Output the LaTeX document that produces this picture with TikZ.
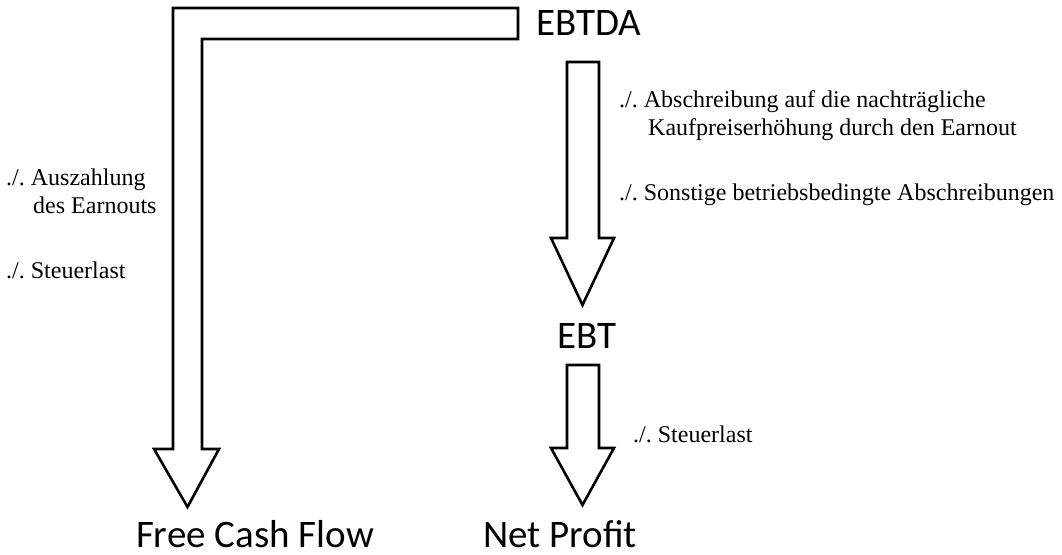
\documentclass[tikz,border=0pt]{standalone}
\usepackage{fontspec}
\setmainfont{Liberation Serif}
\newfontfamily\calib{Carlito}
\frenchspacing
\tikzset{
  blockarrow/.style={draw=black, line width=2.6pt, line join=miter, fill=white},
  bigtext/.style={inner sep=0pt, text depth=0pt, font=\calib\fontsize{39}{44}\selectfont},
  note/.style={inner sep=0pt, anchor=base west, align=left, font=\frenchspacing\fontsize{24}{28}\selectfont},
}
\begin{document}
\begin{tikzpicture}[x=1pt,y=-1pt]
\useasboundingbox (0,0) rectangle (1062,554);
% L-shaped arrow EBTDA -> Free Cash Flow
\draw[blockarrow] (518,8) -- (173,8) -- (173,449) -- (154,449) -- (187.5,507) -- (219,449) -- (202,449) -- (202,39) -- (518,39) -- cycle;
% EBTDA -> EBT
\draw[blockarrow] (567,62) -- (599,62) -- (599,238) -- (614,238) -- (582.5,305) -- (551,238) -- (567,238) -- cycle;
% EBT -> Net Profit
\draw[blockarrow] (567,365) -- (599,365) -- (599,448) -- (614,448) -- (582.5,505) -- (551,448) -- (567,448) -- cycle;
% labels
\node[bigtext, anchor=base] (ebtda) at (589,35) {EBTDA};
\node[bigtext, anchor=base] (ebt) at (587,348) {EBT};
\node[bigtext, anchor=base] (fcf) at (255,547) {Free Cash Flow};
\node[bigtext, anchor=base] (np) at (560,547) {Net Profit};
% notes
\node[note] (n1) at (6,213) {./. Auszahlung\\\hspace*{27pt}des Earnouts};
\node[note] (n2) at (6,278) {./. Steuerlast};
\node[note] (n3) at (619,135) {./. Abschreibung auf die nachträgliche\\\hspace*{29pt}Kaufpreiserhöhung durch den Earnout};
\node[note] (n4) at (619,200) {./. Sonstige betriebsbedingte Abschreibungen};
\node[note] (n5) at (633,442) {./. Steuerlast};
\end{tikzpicture}
\end{document}
